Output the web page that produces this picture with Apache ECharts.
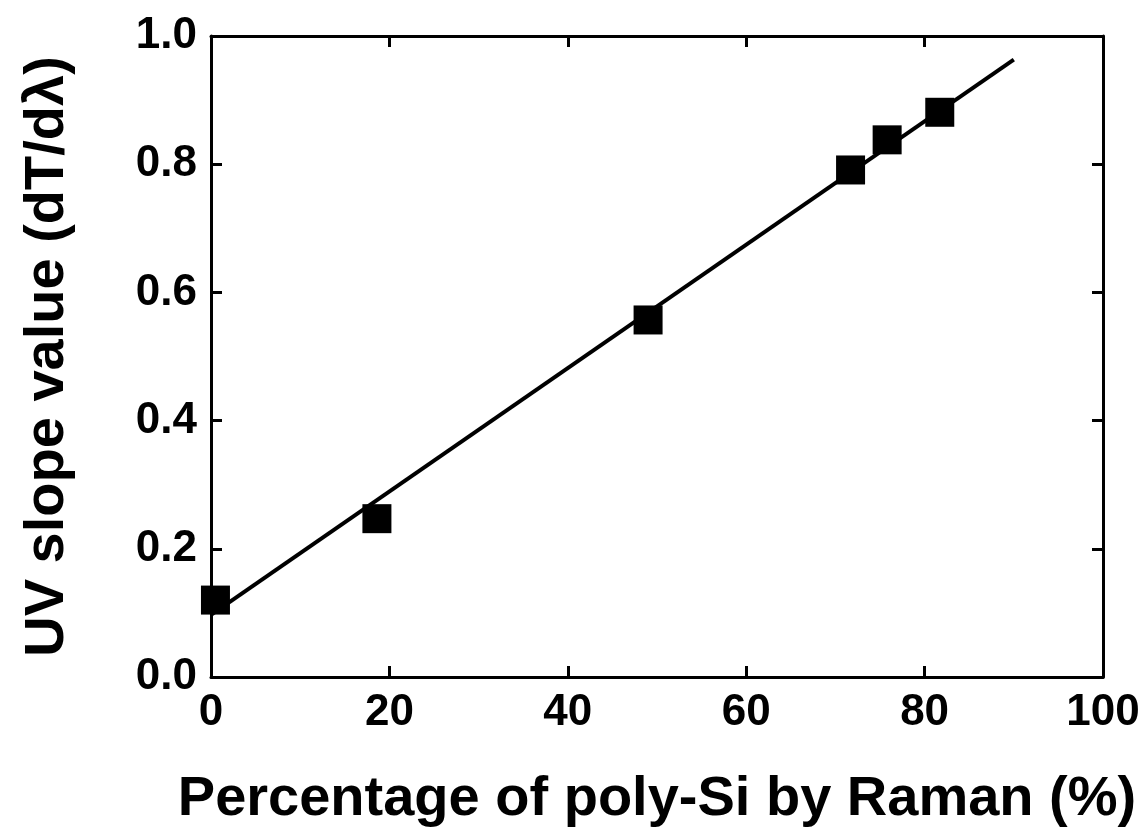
<!DOCTYPE html>
<html><head><meta charset="utf-8">
<script src="https://cdn.jsdelivr.net/npm/echarts@6/dist/echarts.min.js"></script>
<style>html,body{margin:0;padding:0;background:#fff}#c{width:1145px;height:836px}</style>
</head><body><div id="c"></div>
<script>
const pointsX = [0.5, 18.6, 49.0, 71.7, 75.8, 81.7];
const pointsY = [0.12, 0.247, 0.557, 0.791, 0.838, 0.881];
const fitX = [0, 90];
const fitY = [0.097, 0.963];
const xTicks = [0, 20, 40, 60, 80, 100];
const yTicks = [0.0, 0.2, 0.4, 0.6, 0.8, 1.0];
const xTitle = 'Percentage of poly-Si by Raman (%)';
const yTitle = 'UV slope value (dT/dλ)';

const font = 'Liberation Sans, Arial, Helvetica, sans-serif';
const chart = echarts.init(document.getElementById('c'), null, {renderer:'canvas'});
const lineStyle = {color:'#000', width:3};
const tick = {show:true, inside:true, length:11, lineStyle:{color:'#000', width:3}};
chart.setOption({
  animation:false,
  backgroundColor:'#fff',
  grid:{left:211, top:36, right:42, bottom:159, containLabel:false, outerBoundsMode:'none'},
  xAxis:[{
    type:'value', min:0, max:100, interval:20, position:'bottom',
    axisLine:{show:true, onZero:false, lineStyle}, axisTick:tick, splitLine:{show:false},
    axisLabel:{color:'#000', fontFamily:font, fontWeight:'bold', fontSize:44, margin:14,
      formatter:v=>xTicks.includes(v)?String(v):''},
    name:xTitle, nameLocation:'middle', nameGap:95,
    nameTextStyle:{color:'#000', fontFamily:font, fontWeight:'bold', fontSize:56}
  },{
    type:'value', min:0, max:100, interval:20, position:'top',
    axisLine:{show:true, onZero:false, lineStyle}, axisTick:tick, axisLabel:{show:false}, splitLine:{show:false}
  }],
  yAxis:[{
    type:'value', min:0, max:1, interval:0.2, position:'left',
    axisLine:{show:true, onZero:false, lineStyle}, axisTick:tick, splitLine:{show:false},
    axisLabel:{color:'#000', fontFamily:font, fontWeight:'bold', fontSize:44, margin:14,
      formatter:v=>yTicks.some(t=>Math.abs(t-v)<1e-9)?v.toFixed(1):''},
    name:yTitle, nameLocation:'middle', nameGap:135, nameRotate:90,
    nameTextStyle:{color:'#000', fontFamily:font, fontWeight:'bold', fontSize:56}
  },{
    type:'value', min:0, max:1, interval:0.2, position:'right',
    axisLine:{show:true, onZero:false, lineStyle}, axisTick:tick, axisLabel:{show:false}, splitLine:{show:false}
  }],
  series:[{
    type:'line', data:fitX.map((x,i)=>[x,fitY[i]]), symbol:'none',
    lineStyle:{color:'#000', width:4}, z:2
  },{
    type:'scatter', data:pointsX.map((x,i)=>[x,pointsY[i]]), symbol:'rect', symbolSize:29,
    itemStyle:{color:'#000', opacity:1}, z:3, clip:false
  }]
});
</script></body></html>
